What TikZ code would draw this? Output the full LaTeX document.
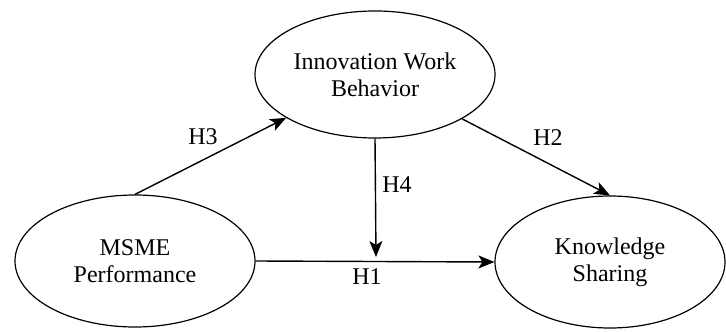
\documentclass[tikz,border=0pt]{standalone}
\usepackage{fontspec}
\setmainfont{Liberation Serif}
\usetikzlibrary{shapes.geometric,arrows.meta}
\begin{document}
\begin{tikzpicture}[x=0.5pt,y=-0.5pt,
  construct/.style={draw,ellipse,line width=0.6pt,inner sep=0pt,align=center,
    font=\fontsize{12}{13.5}\selectfont},
  path/.style={draw,line width=0.7pt,-{Stealth[length=8pt,width=6.5pt,inset=2pt]}},
  hlabel/.style={font=\fontsize{12}{13.5}\selectfont,inner sep=0pt}]
\useasboundingbox (0,0) rectangle (726,331);
\node[construct,minimum width=120pt,minimum height=63.5pt] (iwb) at (375,74.5) {Innovation Work\\Behavior};
\node[construct,minimum width=120pt,minimum height=66pt] (msme) at (135,261) {MSME\\Performance};
\node[construct,minimum width=115pt,minimum height=66pt] (ks) at (610,262) {Knowledge\\Sharing};
\coordinate (h4end) at (376,257);
\draw[path] (msme.north) -- (iwb.206);
\draw[path] (iwb.333) -- (ks.north);
\draw[path] (iwb.south) -- (h4end);
\draw[path] (msme.east) -- (ks.west);
\node[hlabel] (h3) at (203,137) {H3};
\node[hlabel] (h2) at (548,138) {H2};
\node[hlabel] (h4) at (397,185) {H4};
\node[hlabel] (h1) at (367,277) {H1};
\end{tikzpicture}
\end{document}
